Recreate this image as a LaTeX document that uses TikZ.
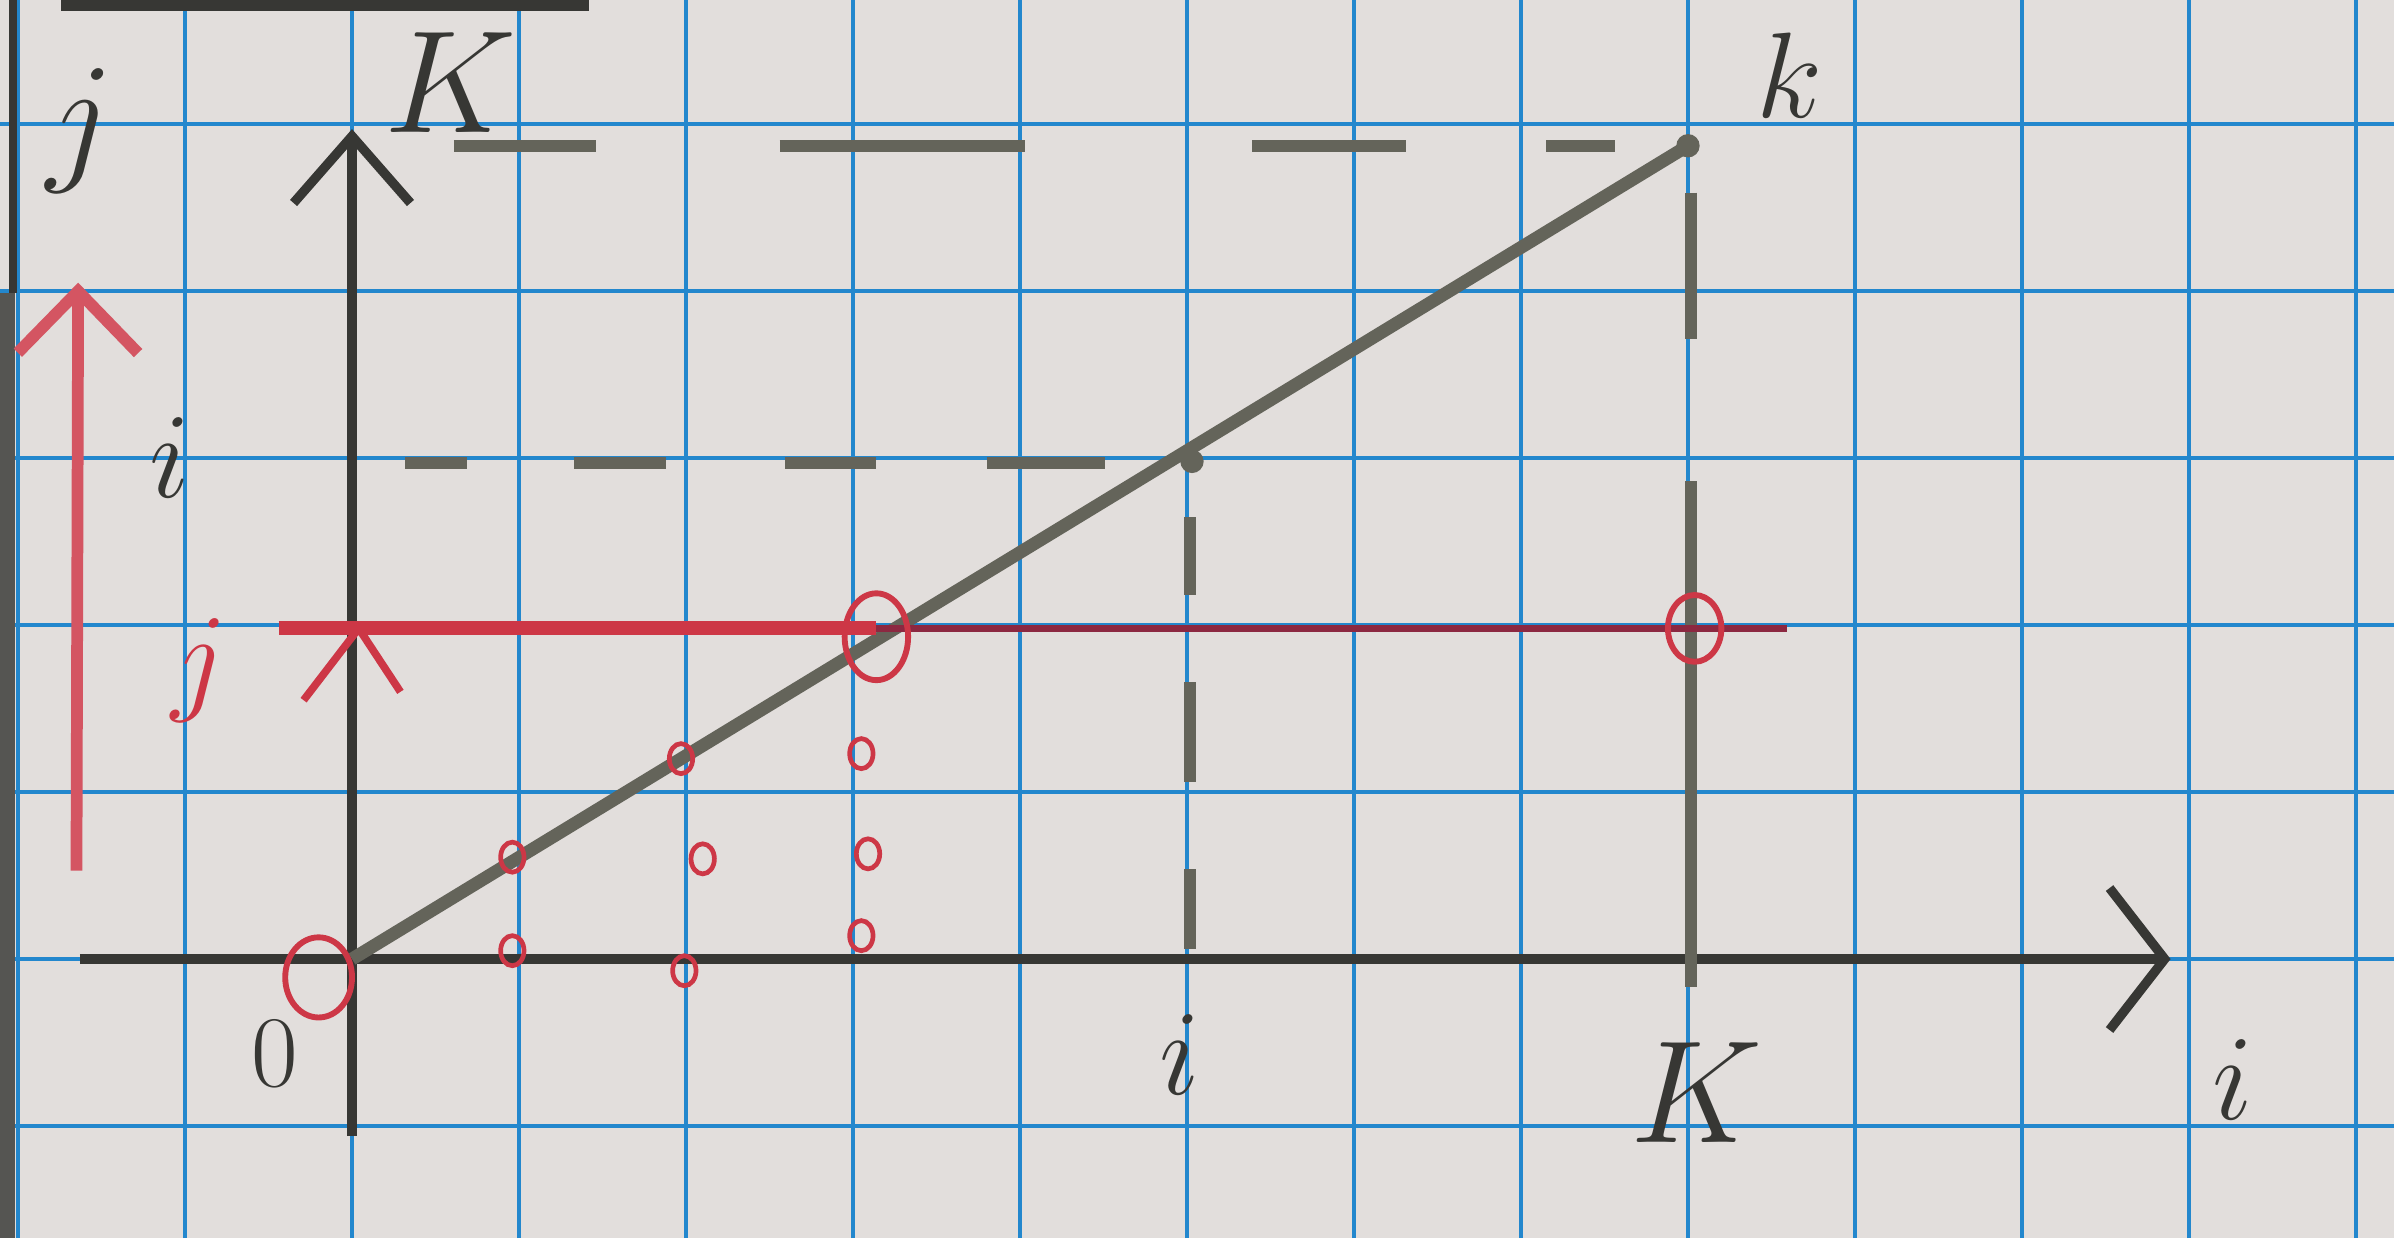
\documentclass[tikz,border=0pt]{standalone}
\usetikzlibrary{arrows.meta}
\definecolor{paper}{RGB}{226,222,220}
\definecolor{gridblue}{RGB}{35,135,205}
\definecolor{pencil}{RGB}{55,55,52}
\definecolor{graphite}{RGB}{100,100,90}
\definecolor{redpen}{RGB}{205,55,70}
\definecolor{darkred}{RGB}{140,40,65}
\begin{document}
\begin{tikzpicture}[
		lbl/.style={pencil, font=\fontsize{22}{26}\selectfont},
		biglbl/.style={pencil, font=\fontsize{29}{34}\selectfont},
		axis/.style={pencil, line width=1.6pt},
		guide/.style={graphite, line width=2pt},
		ring/.style={redpen, line width=1pt},
	]
		\fill[paper] (-2.108,-1.671) rectangle (12.228,5.743);
		\useasboundingbox (-2.108,-1.671) rectangle (12.228,5.743);
		\foreach \x in {-2,...,12}
			\draw[gridblue, line width=0.8pt] (\x,-1.671) -- (\x,5.743);
		\foreach \y in {-1,...,5}
			\draw[gridblue, line width=0.8pt] (-2.108,\y) -- (12.228,\y);
		
		\draw[pencil, line width=1.2pt] (-2.03,5.743) -- (-2.03,3.99);
		\fill[pencil!85] (-2.108,-1.671) rectangle (-2.02,3.99);
		\draw[pencil, line width=2.5pt] (-1.74,5.72) -- (1.42,5.72);
		
		\coordinate (O) at (0,0);
		\coordinate (K) at (8,4.87);
		\coordinate (P) at (5.03,2.98);
		\coordinate (Q) at (3.14,1.98);
		\coordinate (R) at (8.04,1.98);
		\coordinate (J) at (0.04,1.98);
		
		\draw[axis, -{Straight Barb[length=0.4cm,width=0.7cm]}] (0,-1.06) -- (0,4.97);
		\draw[axis, -{Straight Barb[length=0.33cm,width=0.85cm]}] (-1.63,0) -- (10.89,0);
		
		\draw[graphite, line width=2.2pt] (O) -- (K);
		\fill[graphite] (K) circle (0.07);
		\fill[graphite] (P) circle (0.07);
		
		\foreach \a/\b in {0.61/1.46, 2.56/4.03, 5.39/6.31, 7.15/7.56}
			\draw[guide] (\a,4.87) -- (\b,4.87);
		\foreach \a/\b in {0.32/0.69, 1.33/1.88, 2.59/3.14, 3.8/4.51}
			\draw[guide] (\a,2.97) -- (\b,2.97);
		\foreach \a/\b in {2.18/2.65, 1.06/1.66, 0.06/0.54}
			\draw[guide] (5.02,\a) -- (5.02,\b);
		\draw[guide] (8.02,4.59) -- (8.02,3.71);
		\draw[guide] (8.02,2.86) -- (8.02,-0.17);
		
		\draw[redpen, line width=2.4pt] (-0.44,1.98) -- (Q);
		\draw[darkred, line width=1.3pt] (Q) -- (8.59,1.98);
		\draw[redpen, line width=1.3pt] (J) ++(-0.33,-0.43) -- (J) -- ++(0.25,-0.38);
		\draw[redpen!85, line width=2pt, -{Straight Barb[length=0.37cm,width=0.72cm]}] (-1.65,0.53) -- (-1.64,4.05);
		
		\draw[ring] (-0.2,-0.11) ellipse (0.2cm and 0.24cm);
		\draw[ring] (3.14,1.93) ellipse (0.19cm and 0.26cm);
		\draw[ring] (R) ellipse (0.16cm and 0.2cm);
		\foreach \x/\y in {0.96/0.61, 1.97/1.2, 3.05/1.23, 2.1/0.6, 3.09/0.63, 0.96/0.05, 1.99/-0.07, 3.05/0.14}
			\draw[ring, line width=0.8pt] (\x,\y) ellipse (0.07cm and 0.09cm);
		
		\node[lbl, font=\fontsize{26}{30}\selectfont] (jaxis) at (-1.63,4.96) {$j$};
		\node[biglbl] (Ktop) at (0.59,5.25) {$K$};
		\node[lbl] (ktop) at (8.61,5.29) {$k$};
		\node[biglbl] (Kbot) at (8.05,-0.8) {$K$};
		\node[lbl] (iaxis) at (11.26,-0.72) {$i$};
		\node[lbl] (ibot) at (4.96,-0.57) {$i$};
		\node[lbl] (ileft) at (-1.09,3.0) {$i$};
		\node[pencil, font=\fontsize{16}{19}\selectfont] (zero) at (-0.46,-0.57) {$0$};
		\node[lbl, redpen] (jred) at (-0.91,1.73) {$j$};
	\end{tikzpicture}
\end{document}
